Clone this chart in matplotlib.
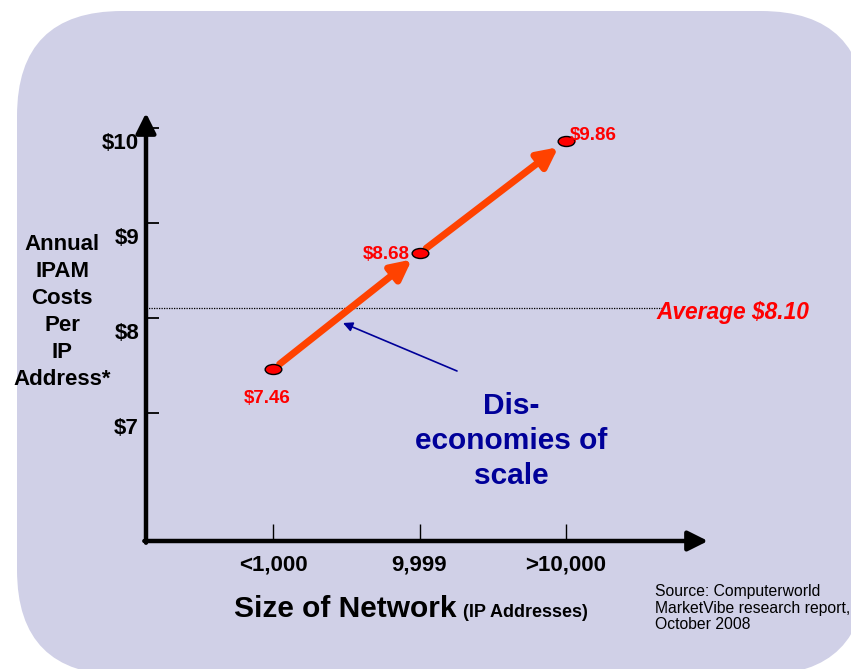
import numpy as np
import matplotlib
matplotlib.use("Agg")
import matplotlib.pyplot as plt
from matplotlib.patches import FancyBboxPatch
from matplotlib.path import Path
from matplotlib.transforms import ScaledTranslation

plt.rcParams['font.family'] = ['Liberation Sans', 'DejaVu Sans']

# data
sizes = ["<1,000", "9,999", ">10,000"]
costs = [7.46, 8.68, 9.86]
cost_labels = ["$7.46", "$8.68", "$9.86"]
average = 8.10
y_ticks = [7, 8, 9, 10]
y_tick_labels = ["$7", "$8", "$9", "$10"]

W, H = 851, 669
fig = plt.figure(figsize=(W / 100, H / 100), dpi=100, facecolor="white")


def fx(x):
    return x / W


def fy(y):
    return 1 - y / H


# lavender rounded panel behind everything
panel = FancyBboxPatch((0.17, -0.06), 8.49, 6.64,
                       boxstyle="round,pad=0,rounding_size=1.05",
                       transform=fig.dpi_scale_trans, facecolor="#D0D0E7",
                       edgecolor="none", zorder=-10)
fig.patches.append(panel)

ax = fig.add_axes([fx(146), fy(541), fx(708) - fx(146), fy(113) - fy(541)])
ax.set_zorder(1)
ax.set_facecolor("none")
ax.set_xlim(-0.867, 2.969)
ax.set_ylim(7 - 128 / 95, 10 + 15 / 95)
for s in ax.spines.values():
    s.set_visible(False)

# axis arrows
arrow_kw = dict(arrowstyle="-|>", lw=3.2, color="black", mutation_scale=30,
                shrinkA=0, shrinkB=0)
ax.annotate("", xy=(0, 1), xytext=(0, -0.004), xycoords="axes fraction",
            arrowprops=arrow_kw, annotation_clip=False)
ax.annotate("", xy=(1, 0), xytext=(-0.003, 0), xycoords="axes fraction",
            arrowprops=arrow_kw, annotation_clip=False)

x = np.arange(len(sizes))
ax.set_xticks(x)
ax.set_xticklabels(sizes, fontsize=16, fontweight="bold")
ax.tick_params(axis="x", direction="in", length=12, width=1.0, pad=10,
               color="black")
ax.set_yticks(y_ticks)
ax.set_yticklabels(y_tick_labels, fontsize=16, fontweight="bold")
ax.tick_params(axis="y", direction="in", length=9, width=1.3, pad=5,
               color="black")
shift = ScaledTranslation(0, -13 / 100, fig.dpi_scale_trans)
for lbl in ax.get_yticklabels():
    lbl.set_transform(lbl.get_transform() + shift)

# average line
ax.axhline(average, xmin=0, xmax=(662 - 146) / 562, color="black",
           lw=0.9, ls=(0, (1, 1)), zorder=2)
fig.text(fx(656), fy(312), f"Average ${average:.2f}", color="#FF0000",
         fontsize=16.4, fontweight="bold", style="italic", va="center",
         ha="left")

# orange arrows between the points
for i in range(len(costs) - 1):
    ax.annotate("", xy=(x[i + 1], costs[i + 1]), xytext=(x[i], costs[i]),
                arrowprops=dict(arrowstyle="-|>", lw=5, color="#FF4200",
                                mutation_scale=30, shrinkA=6, shrinkB=7),
                zorder=3)

# flattened ellipse marker
circ = Path.unit_circle()
ell = Path(circ.vertices * np.array([1.0, 0.6]), circ.codes)
ax.plot(x, costs, ls="none", marker=ell, markersize=12,
        markerfacecolor="#FF0000", markeredgecolor="black",
        markeredgewidth=1.0, zorder=4, clip_on=False)

offsets = [(-4, -21), (-7, -1), (3, 4)]
aligns = ["center", "right", "left"]
for i in range(len(costs)):
    ax.annotate(cost_labels[i], (x[i], costs[i]), xytext=offsets[i],
                textcoords="offset points", ha=aligns[i], va="center",
                color="#FF0000", fontsize=13.5, fontweight="bold", zorder=5)

# navy callout
ax.annotate("", xy=((343 - 146) / 562, (541 - 323) / 428),
            xytext=((457 - 146) / 562, (541 - 371) / 428),
            xycoords="axes fraction",
            arrowprops=dict(arrowstyle="-|>", lw=1.2, color="#000099",
                            mutation_scale=14, shrinkA=0, shrinkB=0))
fig.text(fx(511), fy(441), "Dis-\neconomies of\nscale", color="#000099",
         fontsize=21.5, fontweight="bold", ha="center", va="center",
         multialignment="center", linespacing=1.3)

# axis titles
fig.text(fx(62), fy(312), "Annual\nIPAM\nCosts\nPer\nIP\nAddress*",
         fontsize=16, fontweight="bold", ha="center", va="center",
         multialignment="center", linespacing=1.38)
fig.text(fx(456), fy(617), "Size of Network", fontsize=21.5,
         fontweight="bold", ha="right", va="baseline")
fig.text(fx(463), fy(617), "(IP Addresses)", fontsize=13,
         fontweight="bold", ha="left", va="baseline")

fig.text(fx(655), fy(608), "Source: Computerworld\nMarketVibe research report,\nOctober 2008",
         fontsize=11.3, ha="left", va="center", linespacing=1.15)

fig.savefig("out.png", dpi=100, facecolor="white")
